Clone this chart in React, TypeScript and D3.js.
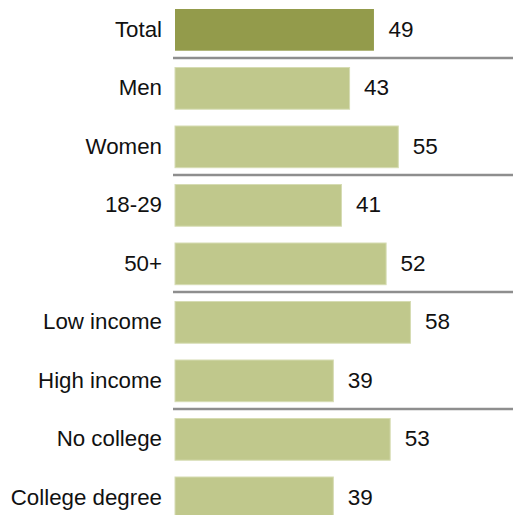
import React from "react";
import * as d3 from "d3";

const categories = [
  "Total",
  "Men",
  "Women",
  "18-29",
  "50+",
  "Low income",
  "High income",
  "No college",
  "College degree",
];
const values = [49, 43, 55, 41, 52, 58, 39, 53, 39];
// separators drawn after these row indices
const separatorsAfter = [0, 2, 4, 6];

const W = 513;
const H = 515;

export default function App() {
  const y = d3
    .scaleBand<string>()
    .domain(categories)
    .range([9, 518.7])
    .paddingInner(0.287)
    .paddingOuter(0);
  const x = d3.scaleLinear().domain([0, 60]).range([175, 175 + 243.6]);
  const step = y.step();
  const bw = y.bandwidth();

  return (
    <svg
      width={W}
      height={H}
      style={{ position: "absolute", left: 0, top: 0, background: "#fff" }}
      fontFamily="'Liberation Sans', Arial, sans-serif"
    >
      {categories.map((c, i) => {
        const yy = y(c)!;
        const v = values[i];
        const isTotal = i === 0;
        return (
          <g key={c}>
            <rect
              x={x(0)}
              y={yy}
              width={x(v) - x(0)}
              height={bw}
              fill={isTotal ? "#939B4B" : "#C0C88C"}
              stroke={isTotal ? "none" : "#D6DCB3"}
              strokeWidth={1}
            />
            <text
              x={162}
              y={yy + bw / 2 + 7}
              textAnchor="end"
              fontSize={22.3}
              fill="#111"
            >
              {c}
            </text>
            <text
              x={x(v) + 14.5}
              y={yy + bw / 2 + 7}
              textAnchor="start"
              fontSize={22.5}
              fill="#111"
            >
              {v}
            </text>
          </g>
        );
      })}
      {separatorsAfter.map((i) => {
        const yy = y(categories[i])! + bw + (step - bw) / 2 - 1;
        return (
          <line
            key={i}
            x1={173}
            x2={W}
            y1={yy}
            y2={yy}
            stroke="#8E8E8E"
            strokeWidth={2.5}
          />
        );
      })}
    </svg>
  );
}
